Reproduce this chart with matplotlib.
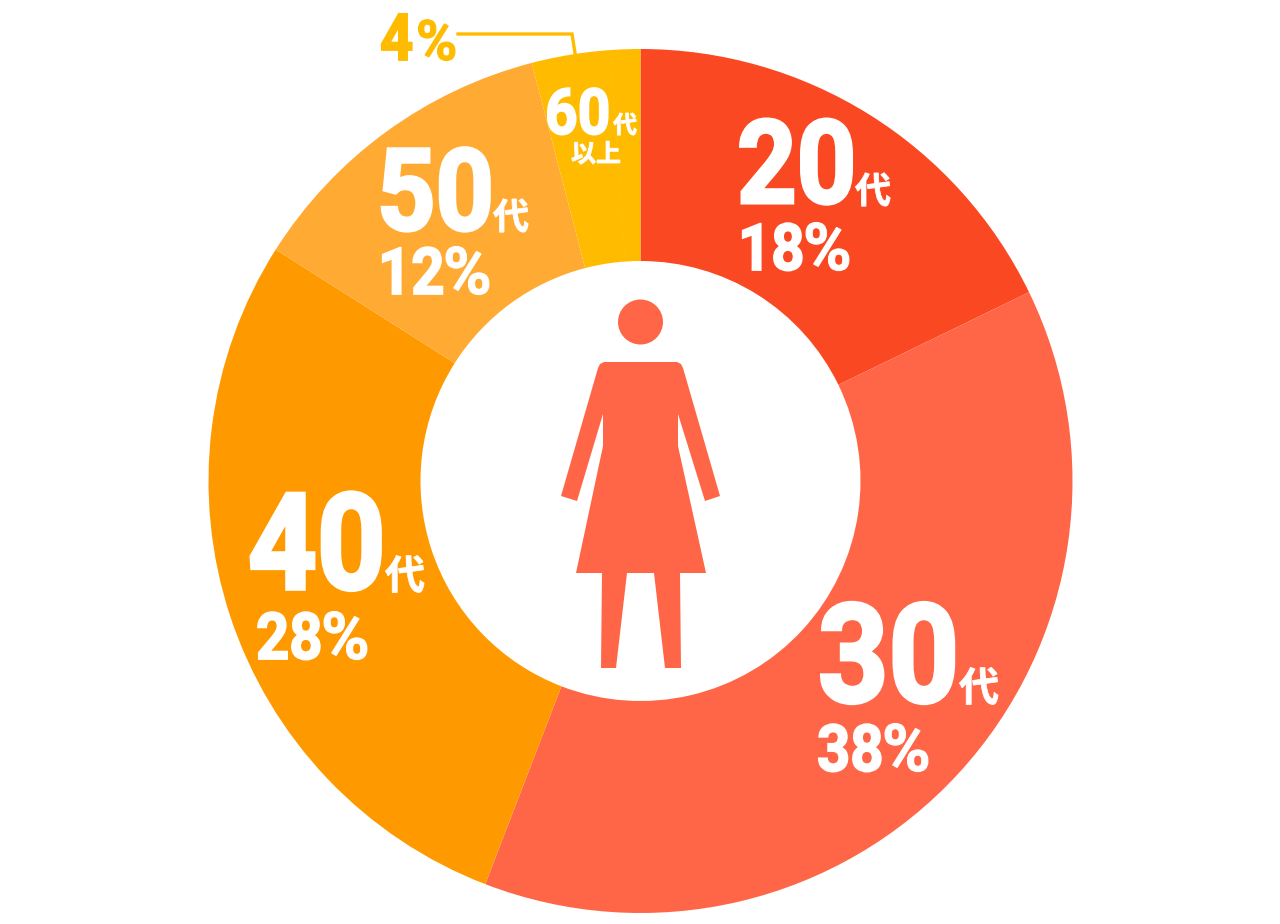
import matplotlib
matplotlib.use("Agg")
import matplotlib.pyplot as plt
import matplotlib.patheffects as pe
from matplotlib.patches import Circle, Polygon
from matplotlib.transforms import Affine2D

W, H = 1280, 924

# age groups, clockwise from the top
ages = ["20代", "30代", "40代", "50代", "60代以上"]
shares = [18, 38, 28, 12, 4]
# arc sizes as measured on the picture, slightly off the printed percentages
arc_shares = [17.8, 38.05, 28.15, 11.95, 4.05]
colors = ["#FA4822", "#FF6647", "#FF9900", "#FFAB33", "#FFBB00"]

DIGIT_FONT = ["Roboto", "DejaVu Sans"]
CJK_FONT = ["Noto Sans CJK JP", "DejaVu Sans"]
ICON = "#FF6647"
PX = 72 / 100  # px to pt at dpi 100
TALL = 1.12  # the digits in the reference are a narrow DIN style


class TallBold(pe.AbstractPathEffect):
    """Stretch glyphs up from the baseline and thicken them a little."""

    def __init__(self, tall, stroke):
        super().__init__()
        self.tall = tall
        self.stroke = stroke

    def draw_path(self, renderer, gc, tpath, affine, rgbFace=None):
        gc0 = renderer.new_gc()
        gc0.copy_properties(gc)
        gc0.set_linewidth(self.stroke * PX)
        gc0.set_foreground(rgbFace)
        gc0.set_joinstyle("miter")
        renderer.draw_path(gc0, tpath, Affine2D().scale(1, self.tall) + affine, rgbFace)
        gc0.restore()


def y(py):
    return H - py


def label(px, py, s, size, family=DIGIT_FONT, color="white", tall=1.0, stroke=0.0):
    t = ax.text(px, y(py), s, fontsize=size * PX, family=family, color=color,
                weight="bold", ha="left", va="baseline")
    t.set_path_effects([TallBold(tall, stroke)])


def age_label(px, py, age, size):
    label(px, py, age, size, tall=TALL, stroke=size * 0.03)


def kanji(px, py, s, size):
    label(px, py, s, size, family=CJK_FONT, stroke=0.8)


def pct_label(px, py, value, color="white"):
    label(px, py, str(value), 58, color=color, tall=TALL, stroke=1.8)
    label(px + 65, py, "%", 66, color=color, stroke=1.0)


fig = plt.figure(figsize=(W / 100, H / 100), dpi=100)
ax = fig.add_axes([0, 0, 1, 1])

ax.pie(arc_shares, colors=colors, startangle=90, counterclock=False,
       center=(640.5, y(481)), radius=432,
       wedgeprops={"width": 212, "linewidth": 0})
ax.set_xlim(0, W)
ax.set_ylim(0, H)
ax.set_aspect("equal")
ax.axis("off")

# faint dashed guide inside the 60s wedge
ax.plot([611, 625], [y(55), y(260)], color="#FFBF10", lw=0.7, ls=(0, (8, 6)))

# leader for the 4% label
ax.plot([458, 572, 575], [y(34), y(34), y(53)], color="#FFBB00", lw=2.4,
        solid_joinstyle="miter")

# age and share labels
age_label(737, 203, "20", 104)
kanji(855, 203, "代", 36)
pct_label(738, 270, shares[0])

age_label(818, 702, "30", 123)
kanji(959, 701, "代", 40)
pct_label(817, 771, shares[1])

age_label(248, 589, "40", 120)
kanji(385, 589, "代", 40)
pct_label(256, 659, shares[2])

age_label(377, 230, "50", 102)
kanji(493, 229, "代", 36)
pct_label(378, 294, shares[3])

age_label(545, 134, "60", 57)
kanji(613, 133, "代", 24)
kanji(571, 162, "以上", 25)

label(380, 60, "4", 58, color="#FFBB00", tall=TALL, stroke=1.8)
label(416, 60, "%", 56, color="#FFBB00", stroke=1.0)

# female pictogram in the hole
ax.add_patch(Circle((640.5, y(322)), 22.5, color=ICON, lw=0))
body = [(604, 362), (677, 362), (681, 364), (683, 368), (720, 496), (705, 501),
        (678, 414), (678, 446), (706, 573), (680, 573), (681, 668), (665, 668),
        (654, 573), (627, 573), (616, 668), (601, 668), (602, 573), (576, 573),
        (603, 446), (603, 414), (577, 501), (561, 496), (598, 368), (600, 364)]
ax.add_patch(Polygon([(px, y(py)) for px, py in body], closed=True, color=ICON, lw=0))

fig.savefig("out.png", dpi=100)
